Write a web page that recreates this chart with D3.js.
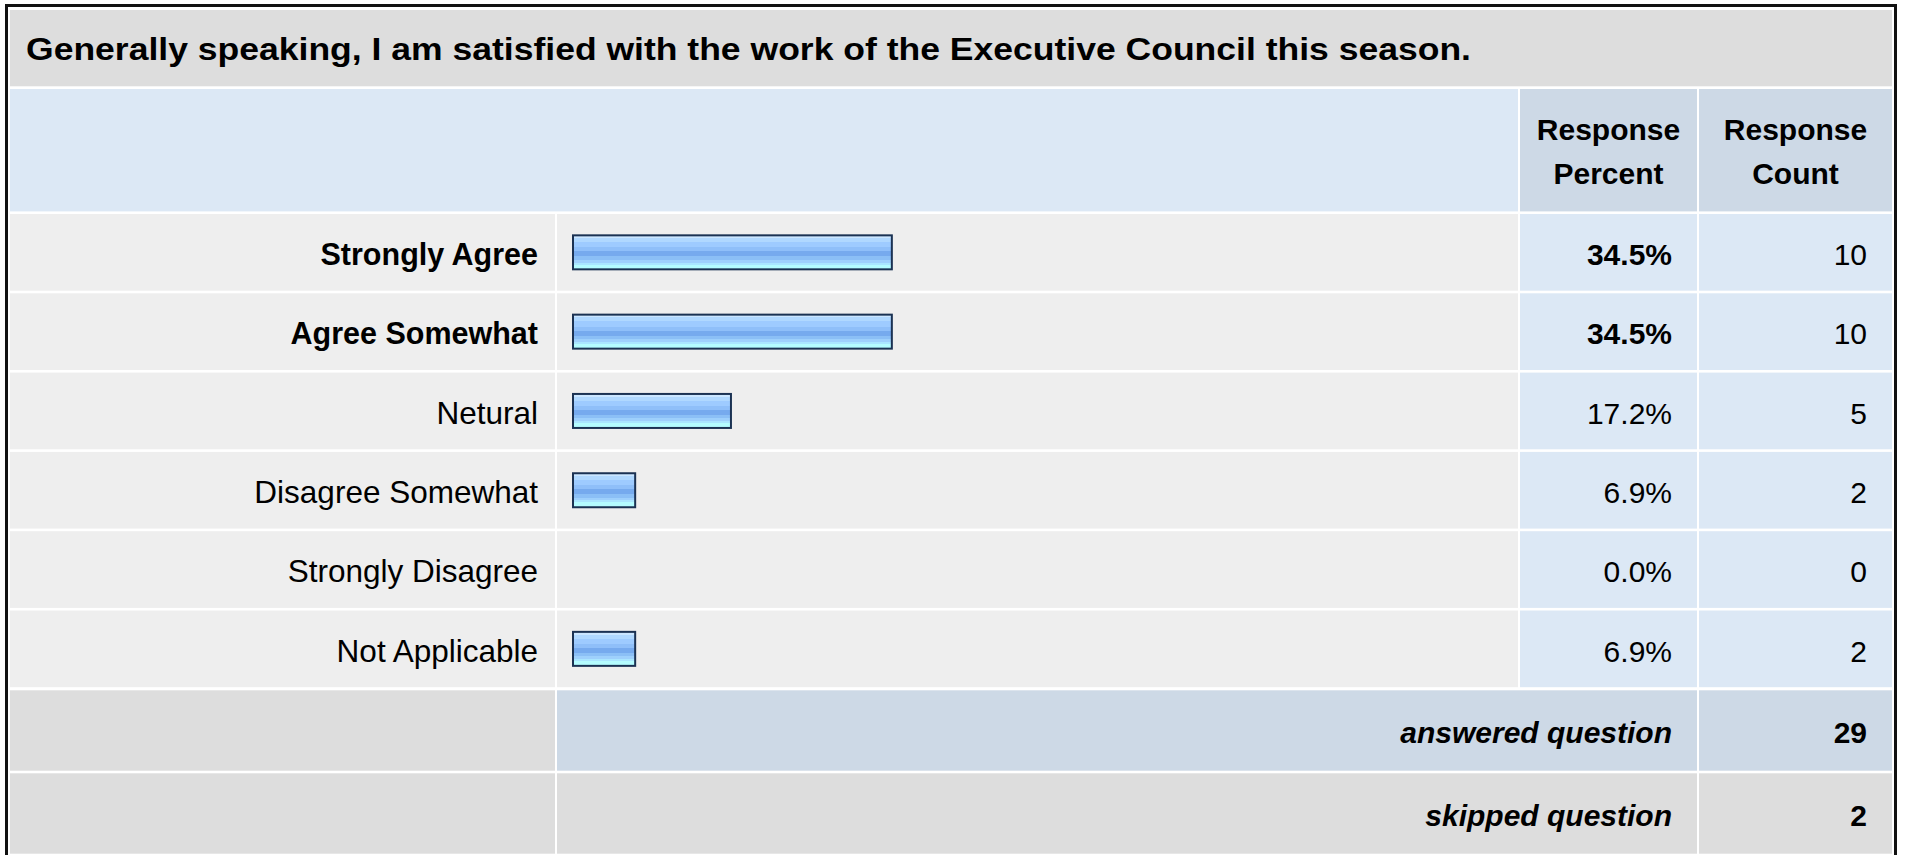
<!DOCTYPE html>
<html>
<head>
<meta charset="utf-8">
<script src="https://cdn.jsdelivr.net/npm/d3@7"></script>
<style>
  html, body { margin: 0; padding: 0; background: #fff; }
  svg { display: block; font-family: "Liberation Sans", Arial, Helvetica, sans-serif; }
</style>
</head>
<body>
<svg id="chart" width="1907" height="855"></svg>
<script>
// Survey question and its answer options
const question = "Generally speaking, I am satisfied with the work of the Executive Council this season.";
const answers = ["Strongly Agree", "Agree Somewhat", "Netural", "Disagree Somewhat", "Strongly Disagree", "Not Applicable"];
const percents = [34.5, 34.5, 17.2, 6.9, 0.0, 6.9];
const counts = [10, 10, 5, 2, 0, 2];
const emphasized = ["Strongly Agree", "Agree Somewhat"];
const headerPercent = ["Response", "Percent"];
const headerCount = ["Response", "Count"];
const summaryLabels = ["answered question", "skipped question"];
const summaryCounts = [29, 2];

const svg = d3.select("#chart");
const FS = 30;

// column edges
const col = {
  label: [10, 555],
  bar: [557, 1518],
  pct: [1520, 1697],
  cnt: [1699, 1892]
};

// colours
const C = {
  title: "#dddddd",
  headLight: "#dce8f5",
  headDark: "#cdd9e6",
  row: "#eeeeee",
  rowVal: "#dce8f5",
  sumDark: "#cdd9e6",
  sumGray: "#dddddd"
};

// row scales
const yRow = d3.scaleBand().domain(answers).range([214, 687.2]).paddingInner(0.033);
const ySum = d3.scaleBand().domain(summaryLabels).range([690.3, 853.7]).paddingInner(0.0313);

// bar length scale
const x = d3.scaleLinear().domain([0, 100]).range([572, 1502]);

// bar gradient
const defs = svg.append("defs");
const grad = defs.append("linearGradient").attr("id", "barFill")
  .attr("x1", 0).attr("y1", 0).attr("x2", 0).attr("y2", 1);
const bands = [
  [0.00, 0.08, "#cbe6ff"],
  [0.08, 0.20, "#b0d8ff"],
  [0.20, 0.35, "#9ecbff"],
  [0.35, 0.47, "#8fbff9"],
  [0.47, 0.62, "#76aaee"],
  [0.62, 0.72, "#8bbff6"],
  [0.72, 0.80, "#9ed0fc"],
  [0.80, 0.86, "#aae6ff"],
  [0.86, 1.00, "#b4fcff"]
];
bands.forEach(([a, b, c]) => {
  grad.append("stop").attr("offset", a).attr("stop-color", c);
  grad.append("stop").attr("offset", b).attr("stop-color", c);
});

// outer frame
svg.append("rect").attr("x", 6.5).attr("y", 5.5).attr("width", 1889).attr("height", 900)
  .attr("fill", "none").attr("stroke", "#111").attr("stroke-width", 3);

function cell(x0, x1, y0, y1, fill) {
  svg.append("rect").attr("x", x0).attr("y", y0)
    .attr("width", x1 - x0).attr("height", y1 - y0).attr("fill", fill);
}

function txt(s, xPos, yPos, anchor, weight, style, size) {
  return svg.append("text").attr("x", xPos).attr("y", yPos)
    .attr("text-anchor", anchor).attr("font-size", size || FS)
    .attr("font-weight", weight || "normal")
    .attr("font-style", style || "normal")
    .attr("fill", "#000").text(s);
}

// title row
cell(col.label[0], col.cnt[1], 10, 86.3, C.title);
txt(question, 26, 60, "start", "bold", "normal", 31)
  .attr("textLength", 1445).attr("lengthAdjust", "spacingAndGlyphs");

// header row
cell(col.label[0], col.bar[1], 89, 211.4, C.headLight);
cell(col.pct[0], col.pct[1], 89, 211.4, C.headDark);
cell(col.cnt[0], col.cnt[1], 89, 211.4, C.headDark);
const pctMid = (col.pct[0] + col.pct[1]) / 2;
const cntMid = (col.cnt[0] + col.cnt[1]) / 2;
headerPercent.forEach((s, i) => txt(s, pctMid, 140 + i * 44, "middle", "bold"));
headerCount.forEach((s, i) => txt(s, cntMid, 140 + i * 44, "middle", "bold"));

// answer rows
const fmt = d3.format(".1f");
answers.forEach((a, i) => {
  const y0 = yRow(a), y1 = y0 + yRow.bandwidth(), yc = (y0 + y1) / 2;
  const base = yc + FS * 0.358 + 2;
  const strong = emphasized.includes(a);
  const w = strong ? "bold" : "normal";
  cell(col.label[0], col.label[1], y0, y1, C.row);
  cell(col.bar[0], col.bar[1], y0, y1, C.row);
  cell(col.pct[0], col.pct[1], y0, y1, C.rowVal);
  cell(col.cnt[0], col.cnt[1], y0, y1, C.rowVal);
  txt(a, 538, base, "end", w, "normal", strong ? 30.5 : 31.5);
  txt(fmt(percents[i]) + "%", 1672, base, "end", w);
  txt(counts[i], 1867, base, "end", "normal");
  if (percents[i] > 0) {
    svg.append("rect")
      .attr("x", x(0) + 1).attr("y", yc - 17)
      .attr("width", x(percents[i]) - x(0) - 2).attr("height", 34)
      .attr("fill", "url(#barFill)")
      .attr("stroke", "#1b3253").attr("stroke-width", 2);
  }
});

// summary rows
summaryLabels.forEach((s, i) => {
  const y0 = ySum(s), y1 = y0 + ySum.bandwidth(), yc = (y0 + y1) / 2;
  const base = yc + FS * 0.358 + 2;
  const fill = i === 0 ? C.sumDark : C.sumGray;
  cell(col.label[0], col.label[1], y0, y1, C.sumGray);
  cell(col.bar[0], col.pct[1], y0, y1, fill);
  cell(col.cnt[0], col.cnt[1], y0, y1, fill);
  txt(s, 1672, base, "end", "bold", "italic");
  txt(summaryCounts[i], 1867, base, "end", "bold");
});
</script>
</body>
</html>
